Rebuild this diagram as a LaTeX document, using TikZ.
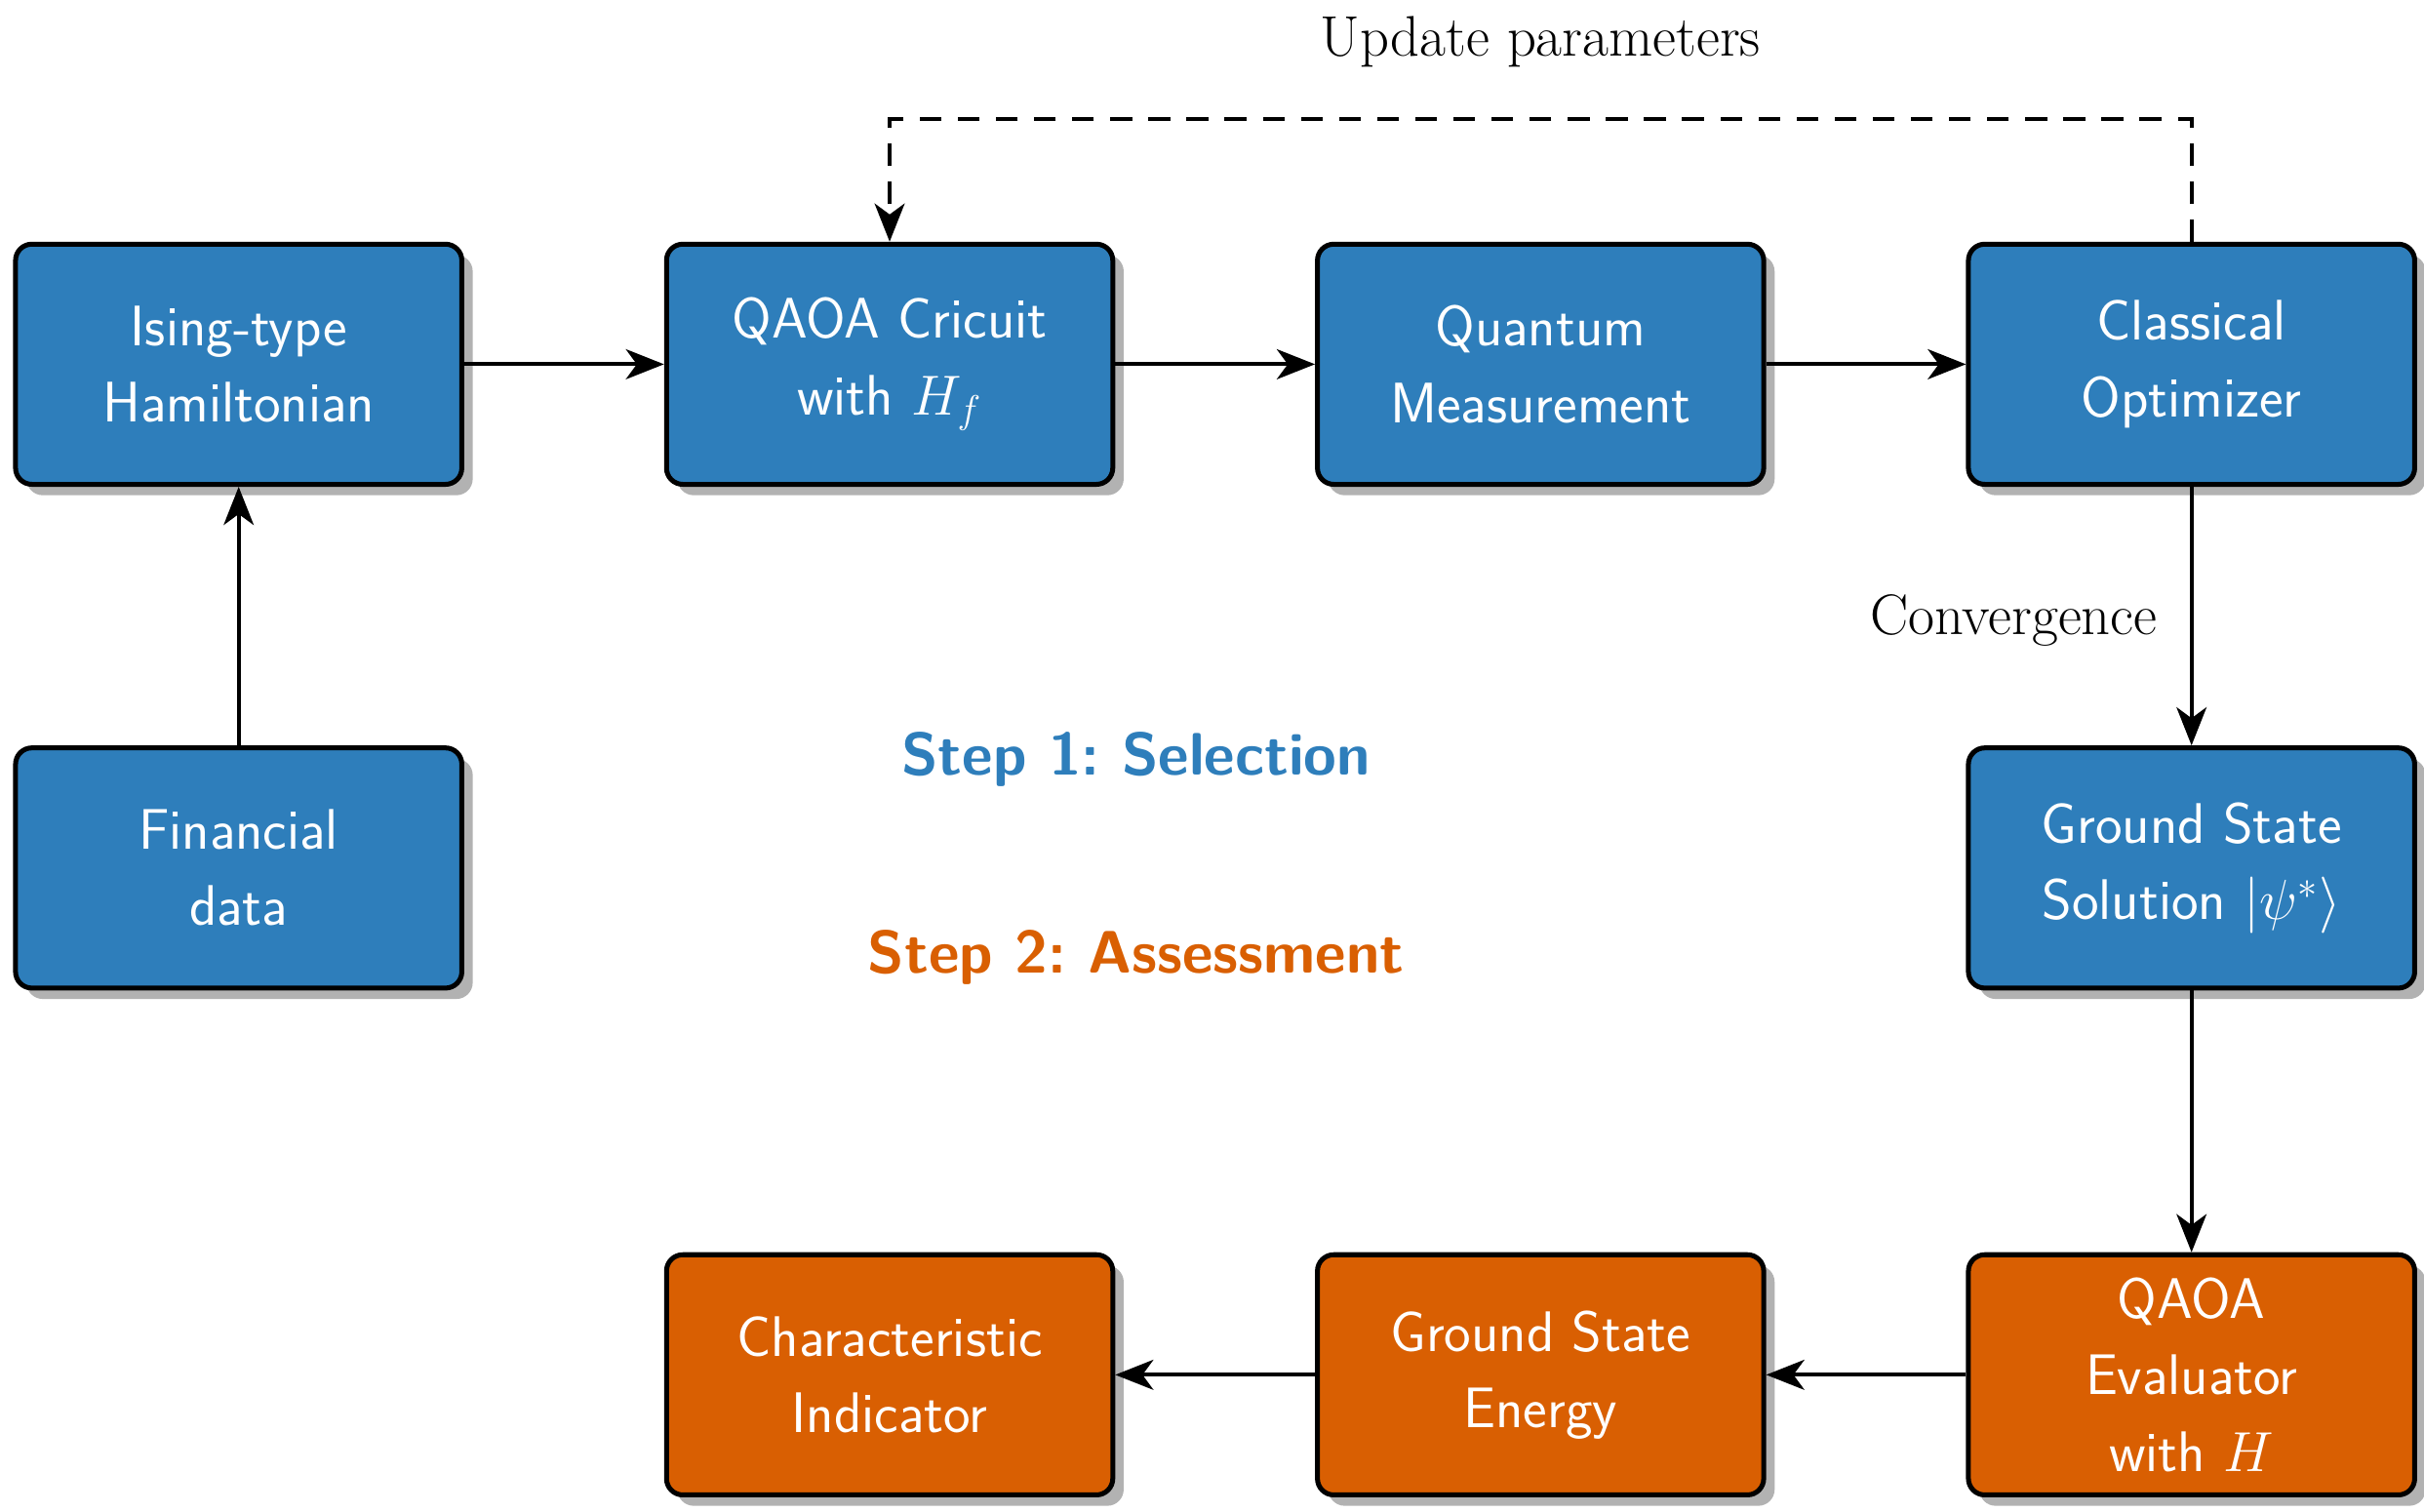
\documentclass[tikz,border=0pt]{standalone}
\usetikzlibrary{arrows.meta,shadows}
\definecolor{bblue}{HTML}{2E7EBB}
\definecolor{borange}{HTML}{D95F02}
\begin{document}
\begin{tikzpicture}[x=0.02cm,y=-0.02cm,
  box/.style={draw=black,line width=1.8pt,rounded corners=6pt,minimum width=5.76cm,minimum height=3.1cm,
    align=center,text=white,font=\sffamily\fontsize{21}{28}\selectfont,
    drop shadow={shadow xshift=4pt,shadow yshift=-4pt,fill=black!30,opacity=1}},
  bbox/.style={box,fill=bblue},
  obox/.style={box,fill=borange},
  arr/.style={line width=1.5pt,-{Stealth[length=14pt,width=11pt,inset=4pt]}},
  lbl/.style={font=\fontsize{21}{26}\selectfont}]
\useasboundingbox (0,0) rectangle (1564,975);
\node[bbox] (ising) at (154,235) {Ising-type\\Hamiltonian};
\node[bbox] (qaoa) at (574,235) {QAOA Cricuit\\with $H_f$};
\node[bbox] (meas) at (994,235) {Quantum\\Measurement};
\node[bbox] (opt) at (1414,235) {Classical\\Optimizer};
\node[bbox] (fin) at (154,560) {Financial\\data};
\node[bbox] (gs) at (1414,560) {Ground State\\Solution $|\psi^*\rangle$};
\node[obox] (eval) at (1414,887) {QAOA\\Evaluator\\with $H$};
\node[obox] (gse) at (994,887) {Ground State\\Energy};
\node[obox] (ci) at (574,887) {Characteristic\\Indicator};
\draw[arr] (fin) -- (ising);
\draw[arr] (ising) -- (qaoa);
\draw[arr] (qaoa) -- (meas);
\draw[arr] (meas) -- (opt);
\draw[arr] (opt) -- (gs);
\draw[arr] (gs) -- (eval);
\draw[arr] (eval) -- (gse);
\draw[arr] (gse) -- (ci);
\coordinate (c1) at (1414,77);
\coordinate (c2) at (574,77);
\draw[arr,dashed,dash pattern=on 8pt off 6pt] (opt.north) -- (c1) -- (c2) -- (qaoa.north);
\node[lbl] (up) at (994,27) {Update parameters};
\node[lbl,anchor=east] (conv) at (1398,400) {Convergence};
\node[font=\sffamily\bfseries\fontsize{22}{26}\selectfont,text=bblue] (s1) at (733,490) {Step 1:\ Selection};
\node[font=\sffamily\bfseries\fontsize{22}{26}\selectfont,text=borange] (s2) at (733,618) {Step 2:\ Assessment};
\end{tikzpicture}
\end{document}
